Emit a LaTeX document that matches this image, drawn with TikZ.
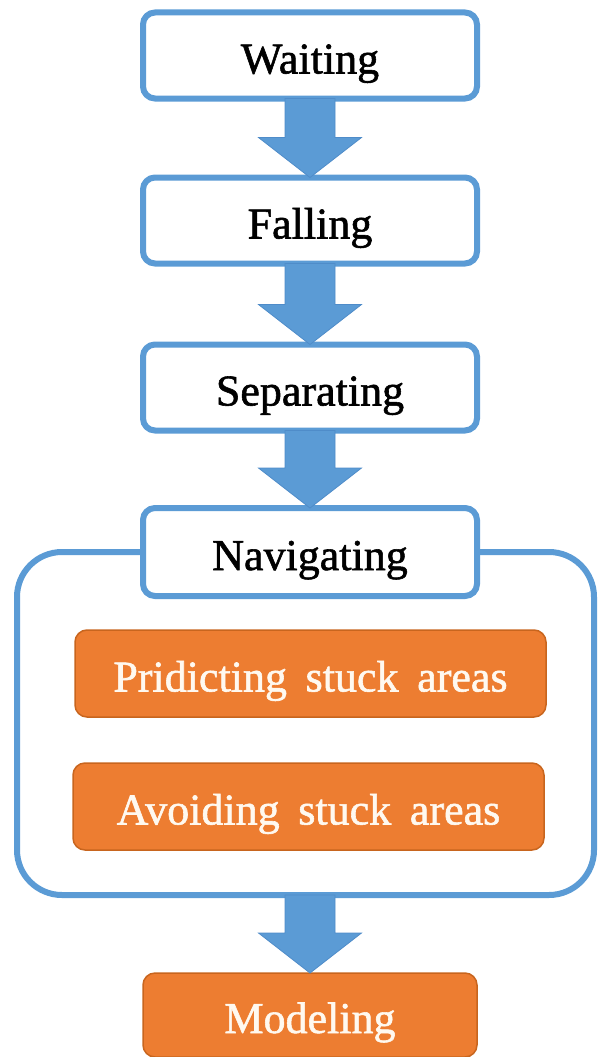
\documentclass[tikz,border=0pt]{standalone}
\usepackage{fontspec}
\setmainfont{Liberation Serif}[WordSpace=1.7, FakeBold=1.3]
\usetikzlibrary{calc,backgrounds}
\definecolor{stageblue}{HTML}{5B9BD5}
\definecolor{arrowedge}{HTML}{4F8CC9}
\definecolor{taskorange}{HTML}{ED7D31}
\definecolor{taskedge}{HTML}{C8651E}
\definecolor{tasktext}{HTML}{FFF9F0}
% block arrow from the bottom anchor of one node to the top anchor of the next
\newcommand\stagearrow[2]{%
  \draw[flowarrow] ($(#1)+(-25,0)$) -- ($(#2)+(-25,-40)$) -- ($(#2)+(-51.5,-40)$)
    -- (#2) -- ($(#2)+(51.5,-40)$) -- ($(#2)+(25,-40)$) -- ($(#1)+(25,0)$) -- cycle;}
\begin{document}
\begin{tikzpicture}[x=1pt,y=-1pt,
  stagebox/.style={draw=stageblue, line width=6pt, fill=white, rounded corners=12pt,
    minimum width=334pt, minimum height=86pt, outer sep=0pt, inner sep=0pt,
    text height=38pt, text depth=2pt, font=\fontsize{44}{44}\selectfont, text=black},
  taskbox/.style={draw=taskedge, line width=1.5pt, fill=taskorange, rounded corners=12pt,
    minimum height=87pt, outer sep=0pt, inner sep=0pt,
    text height=38pt, text depth=2pt, font=\fontsize{44}{44}\selectfont, text=tasktext},
  flowarrow/.style={fill=stageblue, draw=arrowedge, line width=0.8pt, line join=miter},
  groupframe/.style={draw=stageblue, line width=6pt, rounded corners=45pt},
]
\useasboundingbox (0,0) rectangle (597,1057);

% main stages
\node[stagebox] (wait) at (310,55.5) {Waiting};
\node[stagebox] (fall) at (310,220.5) {Falling};
\node[stagebox] (sep) at (310,387.5) {Separating};
\node[stagebox, minimum height=88pt] (nav) at (310,552) {Navigating};

% sub-tasks of navigation
\node[taskbox, minimum width=471pt] (pred) at (310.5,673.5) {Pridicting stuck areas};
\node[taskbox, minimum width=471pt] (avoid) at (308.5,806.5) {Avoiding stuck areas};

% final stage
\node[taskbox, minimum width=334pt, minimum height=84pt] (model) at (310,1015) {Modeling};

% frame grouping the navigation stage
\begin{scope}[on background layer]
  \draw[groupframe] (nav.west) -- (17,552) -- (17,895) -- (594,895) -- (594,552) -- (nav.east);
\end{scope}
\coordinate (framebottom) at (310,895);

% arrows between stages
\stagearrow{wait.south}{fall.north}
\stagearrow{fall.south}{sep.north}
\stagearrow{sep.south}{nav.north}
\stagearrow{framebottom}{model.north}
\end{tikzpicture}
\end{document}
